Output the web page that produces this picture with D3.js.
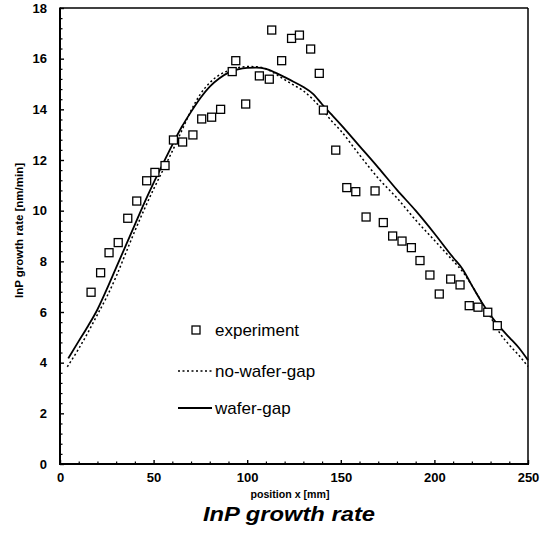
<!DOCTYPE html>
<html><head><meta charset="utf-8">
<script src="https://cdn.jsdelivr.net/npm/d3@7"></script>
<style>body{margin:0;background:#fff}</style>
</head><body>
<svg id="c" width="540" height="539"></svg>
<script>
// ---- data ----
const expX=[16.6,21.7,26.2,31.1,36.2,41.0,46.3,50.7,56.1,60.6,65.5,71.0,75.7,81.0,85.8,92.0,93.9,99.2,106.5,111.8,113.1,118.4,123.7,127.9,133.9,138.5,140.7,147.3,153.2,158.0,163.5,168.3,172.7,177.7,182.7,187.7,192.3,197.6,202.6,208.7,213.7,218.6,223.3,228.5,233.6];
const expY=[6.78,7.55,8.34,8.74,9.70,10.38,11.18,11.51,11.78,12.79,12.71,12.99,13.62,13.69,14.0,15.49,15.92,14.21,15.32,15.19,17.13,15.92,16.8,16.93,16.38,15.42,13.97,12.39,10.91,10.75,9.75,10.78,9.53,9.0,8.8,8.54,8.03,7.46,6.71,7.30,7.07,6.25,6.19,5.99,5.46];

const noGapX=[3.9,10,15,20,25,30,35,40,45,50,55,60,65,70,75,80,85,90,95,100,105,110,115,120,125,130,135,140,145,150,160,170,180,190,200,210,215,220,225,230,235,240,245,250];
const noGapY=[3.84,4.55,5.2,5.9,6.6,7.4,8.3,9.2,10.05,10.85,11.6,12.35,13.15,13.95,14.6,15.05,15.35,15.53,15.64,15.69,15.68,15.6,15.4,15.17,14.95,14.73,14.4,14.0,13.55,13.15,12.2,11.28,10.5,9.63,8.83,8.02,7.6,7.05,6.42,5.8,5.16,4.7,4.3,3.85];

const gapX=[4.4,10,15,20,25,30,35,40,45,50,55,60,65,70,75,80,85,90,95,100,105,110,115,120,125,130,135,140,145,150,160,170,180,190,200,210,215,220,225,230,235,240,245,250];
const gapY=[4.17,4.85,5.45,6.1,6.9,7.75,8.6,9.45,10.3,11.1,11.85,12.6,13.3,13.9,14.45,14.9,15.22,15.45,15.58,15.64,15.65,15.6,15.45,15.27,15.08,14.88,14.62,14.2,13.8,13.4,12.55,11.7,10.82,10.0,9.1,8.15,7.7,7.05,6.42,5.87,5.4,5.0,4.6,4.1];

const xTicks=[0,50,100,150,200,250];
const yTicks=[0,2,4,6,8,10,12,14,16,18];
const legendLabels=["experiment","no-wafer-gap","wafer-gap"];
const titleText="InP growth rate";
const xLabel="position x [mm]";
const yLabel="InP growth rate [nm/min]";

// ---- drawing ----
const svg=d3.select("#c");
const font="'Liberation Sans', Arial, sans-serif";
const x=d3.scaleLinear().domain([0,250]).range([60,528]);
const y=d3.scaleLinear().domain([0,18]).range([464,8]);

// minor ticks
const xMinor=d3.range(0,251,10).filter(v=>v%50!==0);
const yMinor=d3.range(0,18.01,0.4).map(v=>+v.toFixed(1)).filter(v=>v%2!==0);
svg.append("g").attr("transform","translate(0,464)")
  .call(d3.axisBottom(x).tickValues(xMinor).tickFormat("").tickSize(-2.5))
  .call(g=>g.select(".domain").remove())
  .selectAll("line").attr("stroke","#000").attr("stroke-width",1.2);
svg.append("g").attr("transform","translate(60,0)")
  .call(d3.axisLeft(y).tickValues(yMinor).tickFormat("").tickSize(-2.5))
  .call(g=>g.select(".domain").remove())
  .selectAll("line").attr("stroke","#000").attr("stroke-width",1.2);

// major axes
const ax=svg.append("g").attr("transform","translate(0,464)")
  .call(d3.axisBottom(x).tickValues(xTicks).tickSize(-4).tickPadding(9).tickSizeOuter(0));
ax.select(".domain").remove();
ax.selectAll("line").attr("stroke","#000").attr("stroke-width",1.4);
ax.selectAll("text").attr("font-family",font).attr("font-size",13).attr("font-weight","bold").attr("fill","#000");

const ay=svg.append("g").attr("transform","translate(60,0)")
  .call(d3.axisLeft(y).tickValues(yTicks).tickSize(-4).tickPadding(13).tickSizeOuter(0));
ay.select(".domain").remove();
ay.selectAll("line").attr("stroke","#000").attr("stroke-width",1.4);
ay.selectAll("text").attr("font-family",font).attr("font-size",13).attr("font-weight","bold").attr("fill","#000");

// frame
svg.append("line").attr("x1",x(0)).attr("x2",x(250)).attr("y1",y(18)).attr("y2",y(18)).attr("stroke","#000").attr("stroke-width",1.5);
svg.append("line").attr("x1",x(250)).attr("x2",x(250)).attr("y1",y(18)).attr("y2",y(0)).attr("stroke","#000").attr("stroke-width",1.5);
svg.append("line").attr("x1",x(0)).attr("x2",x(0)).attr("y1",y(18)-0.5).attr("y2",y(0)+1).attr("stroke","#000").attr("stroke-width",2);
svg.append("line").attr("x1",x(0)-1).attr("x2",x(250)+1).attr("y1",y(0)).attr("y2",y(0)).attr("stroke","#000").attr("stroke-width",2);

// lines
const line=d3.line().x(d=>x(d[0])).y(d=>y(d[1])).curve(d3.curveMonotoneX);
svg.append("path").datum(noGapX.map((v,i)=>[v,noGapY[i]]))
  .attr("d",line).attr("fill","none").attr("stroke","#000").attr("stroke-width",1.5).attr("stroke-dasharray","2,2.5");
svg.append("path").datum(gapX.map((v,i)=>[v,gapY[i]]))
  .attr("d",line).attr("fill","none").attr("stroke","#000").attr("stroke-width",1.8);

// experiment markers
const s=8;
svg.append("g").selectAll("rect").data(expX.map((v,i)=>[v,expY[i]])).join("rect")
  .attr("x",d=>x(d[0])-s/2).attr("y",d=>y(d[1])-s/2).attr("width",s).attr("height",s)
  .attr("fill","#fff").attr("stroke","#000").attr("stroke-width",1.3);

// legend
const lg=svg.append("g");
lg.append("rect").attr("x",196-s/2).attr("y",330-s/2).attr("width",s).attr("height",s)
  .attr("fill","#fff").attr("stroke","#000").attr("stroke-width",1.3);
lg.append("line").attr("x1",178).attr("x2",212).attr("y1",371).attr("y2",371)
  .attr("stroke","#000").attr("stroke-width",1.5).attr("stroke-dasharray","2,2.5");
lg.append("line").attr("x1",178).attr("x2",212).attr("y1",408).attr("y2",408)
  .attr("stroke","#000").attr("stroke-width",1.8);
[330,371,408].forEach((yy,i)=>{
  lg.append("text").attr("x",215).attr("y",yy+6).text(legendLabels[i])
    .attr("font-family",font).attr("font-size",17).attr("fill","#000");
});

// axis labels & title
svg.append("text").attr("x",290).attr("y",498).attr("text-anchor","middle")
  .attr("font-family",font).attr("font-size",10).attr("font-weight","bold")
  .attr("textLength",79).attr("lengthAdjust","spacingAndGlyphs").text(xLabel);
svg.append("text").attr("transform","translate(23,230.5) rotate(-90)").attr("text-anchor","middle")
  .attr("font-family",font).attr("font-size",11).attr("font-weight","bold")
  .attr("textLength",135).attr("lengthAdjust","spacingAndGlyphs").text(yLabel);
svg.append("text").attr("x",289).attr("y",521).attr("text-anchor","middle")
  .attr("font-family",font).attr("font-size",20).attr("font-style","italic").attr("font-weight","bold")
  .attr("textLength",172).attr("lengthAdjust","spacingAndGlyphs").text(titleText);
</script>
</body></html>
